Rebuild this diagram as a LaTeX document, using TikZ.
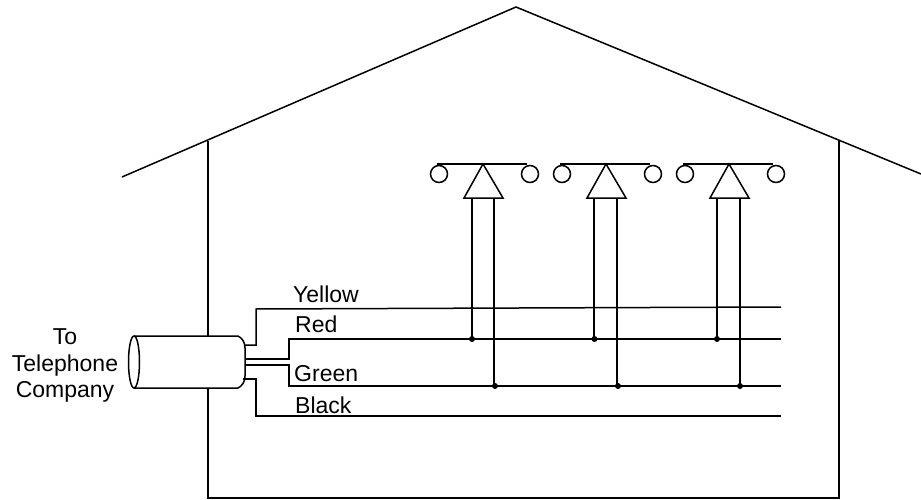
\documentclass[tikz,border=0pt]{standalone}
\usepackage{fontspec}
\setmainfont{Liberation Sans}
\tikzset{
  wire/.style={line width=1.5pt},
  lbl/.style={font=\fontsize{23}{26}\selectfont,inner sep=0pt},
  joint/.style={circle,fill=black,inner sep=0pt,minimum size=6pt}
}
\begin{document}
\begin{tikzpicture}[x=1pt,y=-1pt]
\useasboundingbox (0,0) rectangle (921,500);

%HOUSE
% roof
\draw[wire] (122,177) -- (516,7) -- (921,174);
% walls
\draw[wire] (208,141) -- (208,336);
\draw[wire] (208,388) -- (208,498) -- (839,498) -- (839,141);

%CABLE
\draw[wire] (134,336) -- (238,336) .. controls (242,338) and (245,342) .. (245,348) -- (245,376) .. controls (245,382) and (242,386) .. (238,388) -- (134,388);
\draw[wire] (134,362) ellipse (5.5 and 26);

%WIRES
% yellow
\draw[wire] (245,345) -- (256,345) -- (256,309) -- (781,307);
% red
\draw[wire] (245,359) -- (289,359) -- (289,339) -- (781,339);
% green
\draw[wire] (245,365) -- (289,365) -- (289,386) -- (781,386);
% black
\draw[wire] (243,379) -- (256,379) -- (256,416) -- (781,416);

%PHONES
% first
\draw[wire] (437,164) -- (527,164);
\draw[wire] (439,174) circle (8.5);
\draw[wire] (530,174) circle (8.5);
\draw[wire] (483,164) -- (464,198) -- (503,198) -- cycle;
\draw[wire] (472,198) -- (472,339);
\draw[wire] (494,198) -- (494,386);
\node[joint] (redA) at (472,339) {};
\node[joint] (greenA) at (495,386) {};
% second
\draw[wire] (560,164) -- (650,164);
\draw[wire] (562,174) circle (8.5);
\draw[wire] (653,174) circle (8.5);
\draw[wire] (606,164) -- (587,198) -- (626,198) -- cycle;
\draw[wire] (594,198) -- (594,339);
\draw[wire] (617,198) -- (617,386);
\node[joint] (redB) at (594.5,339) {};
\node[joint] (greenB) at (618,386) {};
% third
\draw[wire] (683,164) -- (773,164);
\draw[wire] (685,174) circle (8.5);
\draw[wire] (776,174) circle (8.5);
\draw[wire] (729,164) -- (710,198) -- (749,198) -- cycle;
\draw[wire] (717,198) -- (717,339);
\draw[wire] (740,198) -- (740,386);
\node[joint] (redC) at (717,339) {};
\node[joint] (greenC) at (740,386) {};

%LABELS
\node[lbl,anchor=base west] (yellow) at (293,302) {Yellow};
\node[lbl,anchor=base west] (red) at (295,332) {Red};
\node[lbl,anchor=base west] (green) at (294,381) {Green};
\node[lbl,anchor=base west] (black) at (295,413) {Black};
\node[lbl,anchor=base] (to) at (65,344) {To};
\node[lbl,anchor=base] (telephone) at (65,371) {Telephone};
\node[lbl,anchor=base] (company) at (65,397) {Company};

\end{tikzpicture}
\end{document}
